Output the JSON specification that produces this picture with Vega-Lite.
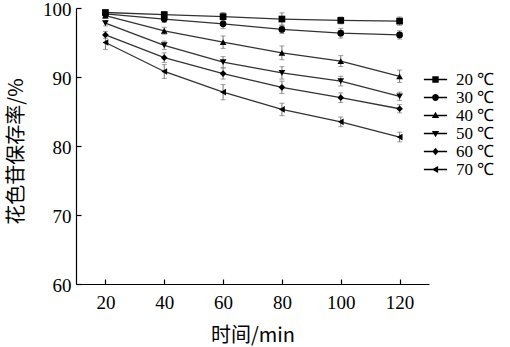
{
  "$schema": "https://vega.github.io/schema/vega-lite/v6.json",
  "width": 353,
  "height": 276,
  "autosize": "none",
  "padding": {"left": 76, "top": 8, "right": 81, "bottom": 63},
  "background": "white",
  "config": {
    "view": {"stroke": null},
    "axis": {
      "grid": false,
      "domainColor": "#000",
      "domainWidth": 1.2,
      "tickColor": "#000",
      "tickWidth": 1.2,
      "tickSize": -5,
      "labelFont": "Liberation Serif",
      "labelFontSize": 19,
      "labelColor": "#000",
      "titleFont": "Noto Sans CJK SC",
      "titleFontSize": 20,
      "titleFontWeight": "normal",
      "titleColor": "#000"
    }
  },
  "data": {
    "values": [
      {"s": "20 ℃", "t": 20, "v": 99.35, "err": 0.3},
      {"s": "20 ℃", "t": 40, "v": 99.05, "err": 0.4},
      {"s": "20 ℃", "t": 60, "v": 98.75, "err": 0.6},
      {"s": "20 ℃", "t": 80, "v": 98.4, "err": 0.9},
      {"s": "20 ℃", "t": 100, "v": 98.2, "err": 0.5},
      {"s": "20 ℃", "t": 120, "v": 98.1, "err": 0.6},
      {"s": "30 ℃", "t": 20, "v": 99.15, "err": 0.4},
      {"s": "30 ℃", "t": 40, "v": 98.4, "err": 0.5},
      {"s": "30 ℃", "t": 60, "v": 97.7, "err": 0.7},
      {"s": "30 ℃", "t": 80, "v": 96.9, "err": 0.6},
      {"s": "30 ℃", "t": 100, "v": 96.35, "err": 0.7},
      {"s": "30 ℃", "t": 120, "v": 96.1, "err": 0.6},
      {"s": "40 ℃", "t": 20, "v": 98.9, "err": 0.4},
      {"s": "40 ℃", "t": 40, "v": 96.7, "err": 0.5},
      {"s": "40 ℃", "t": 60, "v": 95.05, "err": 0.9},
      {"s": "40 ℃", "t": 80, "v": 93.5, "err": 1.0},
      {"s": "40 ℃", "t": 100, "v": 92.3, "err": 0.8},
      {"s": "40 ℃", "t": 120, "v": 90.1, "err": 0.9},
      {"s": "50 ℃", "t": 20, "v": 97.8, "err": 0.4},
      {"s": "50 ℃", "t": 40, "v": 94.6, "err": 0.6},
      {"s": "50 ℃", "t": 60, "v": 92.15, "err": 0.8},
      {"s": "50 ℃", "t": 80, "v": 90.6, "err": 0.9},
      {"s": "50 ℃", "t": 100, "v": 89.4, "err": 0.7},
      {"s": "50 ℃", "t": 120, "v": 87.2, "err": 0.6},
      {"s": "60 ℃", "t": 20, "v": 96.1, "err": 0.5},
      {"s": "60 ℃", "t": 40, "v": 92.8, "err": 0.7},
      {"s": "60 ℃", "t": 60, "v": 90.5, "err": 0.8},
      {"s": "60 ℃", "t": 80, "v": 88.5, "err": 0.9},
      {"s": "60 ℃", "t": 100, "v": 87.0, "err": 0.7},
      {"s": "60 ℃", "t": 120, "v": 85.4, "err": 0.6},
      {"s": "70 ℃", "t": 20, "v": 95.0, "err": 1.0},
      {"s": "70 ℃", "t": 40, "v": 90.8, "err": 1.0},
      {"s": "70 ℃", "t": 60, "v": 87.8, "err": 1.1},
      {"s": "70 ℃", "t": 80, "v": 85.3, "err": 0.9},
      {"s": "70 ℃", "t": 100, "v": 83.5, "err": 0.7},
      {"s": "70 ℃", "t": 120, "v": 81.3, "err": 0.7}
    ]
  },
  "encoding": {
    "x": {
      "field": "t", "type": "quantitative",
      "scale": {"domain": [10, 130], "nice": false, "zero": false},
      "axis": {"values": [20, 40, 60, 80, 100, 120], "title": "时间/min", "labelPadding": 14, "titlePadding": 13}
    },
    "y": {
      "field": "v", "type": "quantitative",
      "scale": {"domain": [60, 100], "nice": false, "zero": false},
      "axis": {"values": [60, 70, 80, 90, 100], "title": "花色苷保存率/%", "labelPadding": 10, "labelOffset": 1.5, "titlePadding": 16, "titleY": 143}
    }
  },
  "layer": [
    {
      "mark": {"type": "errorbar", "ticks": {"size": 5}, "color": "#777", "thickness": 1},
      "encoding": {"yError": {"field": "err"}, "detail": {"field": "s"}}
    },
    {
      "mark": {"type": "line", "color": "#333", "strokeWidth": 1.3},
      "encoding": {"detail": {"field": "s", "type": "nominal"}}
    },
    {
      "mark": {"type": "point", "filled": true, "color": "#000", "opacity": 1, "size": 45},
      "encoding": {
        "shape": {
          "field": "s", "type": "nominal",
          "scale": {"range": ["square", "circle", "triangle-up", "triangle-down", "diamond", "triangle-left"]},
          "legend": null
        }
      }
    },
    {
      "mark": {"type": "point", "filled": true, "color": "#000", "opacity": 0, "size": 64},
      "encoding": {
        "shape": {
          "field": "s", "type": "nominal",
          "scale": {"range": [
            "M-2.9,-0.16H2.9V0.16H-2.9ZM-0.8,-0.8H0.8V0.8H-0.8Z",
            "M-2.9,-0.16H2.9V0.16H-2.9ZM0.85,0A0.85,0.85 0 1,1 -0.85,0A0.85,0.85 0 1,1 0.85,0Z",
            "M-2.9,-0.16H2.9V0.16H-2.9ZM0,-0.95L0.9,0.65H-0.9Z",
            "M-2.9,-0.16H2.9V0.16H-2.9ZM0,0.95L-0.9,-0.65H0.9Z",
            "M-2.9,-0.16H2.9V0.16H-2.9ZM0,-0.95L0.8,0L0,0.95L-0.8,0Z",
            "M-2.9,-0.16H2.9V0.16H-2.9ZM-0.95,0L0.65,-0.9V0.9Z"
          ]},
          "legend": {
            "title": null,
            "orient": "none",
            "legendX": 351,
            "legendY": 63,
            "padding": 0,
            "rowPadding": 0,
            "symbolSize": 64,
            "symbolOpacity": 1,
            "symbolFillColor": "#000",
            "symbolStrokeColor": "#000",
            "symbolStrokeWidth": 0,
            "labelFont": "Liberation Serif",
            "labelFontSize": 17,
            "labelColor": "#000",
            "labelOffset": 12
          }
        }
      }
    }
  ],
  "resolve": {"scale": {"shape": "independent"}}
}
